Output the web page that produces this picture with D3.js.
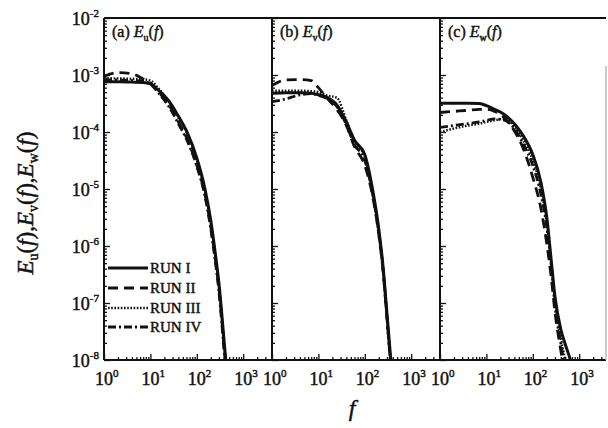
<!DOCTYPE html>
<html lang="en">
<head>
<meta charset="UTF-8">
<title>Energy spectra E(f)</title>
<script src="https://d3js.org/d3.v7.min.js"></script>
<style>
    body { margin: 0; background: #fff; }
    text { font-family: "Liberation Serif", "DejaVu Serif", serif; fill: #111; stroke: #111; stroke-width: 0.45px; }
</style>
</head>
<body>
<script>
    // frequency points shared by every curve
    const freq = [1, 2, 4, 7, 10, 15, 25, 40, 60, 100, 150, 200, 250, 300, 400, 500, 700, 1000];

    const runNames = ['RUN I', 'RUN II', 'RUN III', 'RUN IV'];

    // (a) E_u(f), one row per run
    const Eu = [
        [7.6e-4, 7.6e-4, 7.5e-4, 7.4e-4, 7.0e-4, 5.4e-4, 3.5e-4, 1.9e-4, 1.05e-4, 3.5e-5, 1.0e-5, 2.8e-6, 7.5e-7, 2.2e-7, 1.6e-8, 2e-9, 1e-10, 1e-11],
        [9.5e-4, 1.1e-3, 1.05e-3, 8.5e-4, 7.2e-4, 5.0e-4, 3.0e-4, 1.5e-4, 8e-5, 2.6e-5, 8e-6, 2.2e-6, 6e-7, 1.8e-7, 1.2e-8, 1.5e-9, 1e-10, 1e-11],
        [8.8e-4, 8.7e-4, 8.6e-4, 8.4e-4, 8.0e-4, 5.8e-4, 3.4e-4, 1.8e-4, 1.0e-4, 3.2e-5, 9e-6, 2.5e-6, 7e-7, 2e-7, 1.4e-8, 2e-9, 1e-10, 1e-11],
        [8.2e-4, 8.2e-4, 8.0e-4, 7.8e-4, 7.0e-4, 4.8e-4, 2.8e-4, 1.4e-4, 7.5e-5, 2.5e-5, 7.5e-6, 2e-6, 5.5e-7, 1.6e-7, 1.1e-8, 1.5e-9, 1e-10, 1e-11]
    ];

    // (b) E_v(f)
    const Ev = [
        [4.8e-4, 4.9e-4, 4.9e-4, 4.8e-4, 4.5e-4, 4.1e-4, 3.0e-4, 1.5e-4, 7.2e-5, 4.0e-5, 9e-6, 2e-6, 4e-7, 6.6e-8, 4e-9, 5e-10, 1e-10, 1e-11],
        [6.5e-4, 8.2e-4, 8.3e-4, 8.0e-4, 6.0e-4, 4.0e-4, 2.5e-4, 1.3e-4, 5.5e-5, 2.6e-5, 7e-6, 1.6e-6, 3.3e-7, 5.5e-8, 3e-9, 4e-10, 1e-10, 1e-11],
        [5.3e-4, 5.3e-4, 5.3e-4, 5.2e-4, 5.0e-4, 4.4e-4, 4.0e-4, 1.6e-4, 7e-5, 3.6e-5, 8e-6, 1.8e-6, 3.8e-7, 6e-8, 3.5e-9, 5e-10, 1e-10, 1e-11],
        [3.4e-4, 3.8e-4, 4.5e-4, 4.7e-4, 4.4e-4, 3.9e-4, 2.8e-4, 1.35e-4, 6e-5, 3.2e-5, 7.5e-6, 1.7e-6, 3.5e-7, 5.5e-8, 3e-9, 4e-10, 1e-10, 1e-11]
    ];

    // (c) E_w(f)
    const Ew = [
        [3.2e-4, 3.2e-4, 3.2e-4, 3.15e-4, 2.9e-4, 2.5e-4, 2.0e-4, 1.4e-4, 9e-5, 4e-5, 1.3e-5, 3.2e-6, 5.5e-7, 1.3e-7, 3.5e-8, 1.9e-8, 8e-9, 2e-9],
        [2.2e-4, 2.3e-4, 2.4e-4, 2.5e-4, 2.5e-4, 2.3e-4, 1.75e-4, 1.05e-4, 5.5e-5, 1.6e-5, 4.5e-6, 1.1e-6, 2.8e-7, 7e-8, 1.5e-8, 5e-9, 1e-9, 1e-10],
        [1.0e-4, 1.15e-4, 1.3e-4, 1.4e-4, 1.5e-4, 1.6e-4, 1.7e-4, 1.25e-4, 7.5e-5, 3.2e-5, 1.0e-5, 2.6e-6, 5e-7, 1.1e-7, 2.5e-8, 1e-8, 3e-9, 1e-10],
        [1.2e-4, 1.3e-4, 1.4e-4, 1.5e-4, 1.6e-4, 1.7e-4, 1.6e-4, 1.15e-4, 6.5e-5, 2.6e-5, 8e-6, 2.2e-6, 4.5e-7, 9e-8, 2e-8, 7e-9, 2e-9, 1e-10]
    ];

    // tick label exponents
    const xExps = [0, 1, 2, 3];
    const yExps = [-2, -3, -4, -5, -6, -7, -8];

    const width = 608, height = 428;
    const plotTop = 18, plotBottom = 360;
    const decade = 46.4;

    // line styles per run
    const dashes = [null, '10,6', '1.6,1.6', '8,3,2,3'];
    const widths = [3, 2.8, 2.4, 2.8];

    const svg = d3.select('body').append('svg')
        .attr('width', width)
        .attr('height', height);

    const y = d3.scaleLog().domain([1e-8, 1e-2]).range([plotBottom, plotTop]);

    const panels = [
        { x0: 104, x1: 272, tag: '(a) ', sub: 'u', data: Eu },
        { x0: 272, x1: 440, tag: '(b) ', sub: 'v', data: Ev },
        { x0: 440, x1: 606, tag: '(c) ', sub: 'w', data: Ew }
    ];

    panels.forEach((p, i) => {
        const x = d3.scaleLog()
            .domain([1, Math.pow(10, (p.x1 - p.x0) / decade)])
            .range([p.x0, p.x1]);

        const g = svg.append('g');

        // clip so curves stop at the frame
        g.append('clipPath').attr('id', 'clip' + i)
            .append('rect')
            .attr('x', p.x0).attr('y', plotTop)
            .attr('width', p.x1 - p.x0).attr('height', plotBottom - plotTop);

        // inward ticks: minor short, decades longer
        const xt = x.ticks();
        const yt = y.ticks();
        const isMajor = v => Math.abs(Math.log10(v) - Math.round(Math.log10(v))) < 1e-6;

        g.append('g').attr('transform', `translate(0,${plotBottom})`)
            .call(d3.axisBottom(x).tickValues(xt.filter(v => !isMajor(v))).tickSize(-3).tickFormat(''))
            .call(a => a.select('.domain').remove());
        g.append('g').attr('transform', `translate(0,${plotBottom})`)
            .call(d3.axisBottom(x).tickValues(xt.filter(isMajor)).tickSize(-6).tickFormat(''))
            .call(a => a.select('.domain').remove());
        g.append('g').attr('transform', `translate(${p.x0},0)`)
            .call(d3.axisLeft(y).tickValues(yt.filter(v => !isMajor(v))).tickSize(-3).tickFormat(''))
            .call(a => a.select('.domain').remove());
        g.append('g').attr('transform', `translate(${p.x0},0)`)
            .call(d3.axisLeft(y).tickValues(yt.filter(isMajor)).tickSize(-6).tickFormat(''))
            .call(a => a.select('.domain').remove());
        g.selectAll('.tick line').attr('stroke', '#111').attr('stroke-width', 1.3);

        // frame: left edge, bottom, top
        g.append('line')
            .attr('x1', p.x0).attr('x2', p.x0)
            .attr('y1', plotTop).attr('y2', plotBottom)
            .attr('stroke', '#111').attr('stroke-width', 2);
        g.append('line')
            .attr('x1', p.x0).attr('x2', p.x1)
            .attr('y1', plotBottom).attr('y2', plotBottom)
            .attr('stroke', '#111').attr('stroke-width', 2);
        g.append('line')
            .attr('x1', p.x0).attr('x2', p.x1)
            .attr('y1', plotTop).attr('y2', plotTop)
            .attr('stroke', '#111').attr('stroke-width', 2);

        // curves
        const line = d3.line()
            .x((d, j) => x(freq[j]))
            .y(d => y(d))
            .curve(d3.curveMonotoneX);

        const curves = g.append('g').attr('clip-path', `url(#clip${i})`);
        p.data.forEach((series, r) => {
            curves.append('path')
                .datum(series)
                .attr('d', line)
                .attr('fill', 'none')
                .attr('stroke', '#111')
                .attr('stroke-width', widths[r])
                .attr('stroke-dasharray', dashes[r]);
        });

        // x tick labels
        xExps.forEach(e => {
            const t = g.append('text')
                .attr('x', x(Math.pow(10, e)) - 9)
                .attr('y', 385)
                .attr('font-size', 18);
            t.append('tspan').text('10');
            t.append('tspan').attr('dy', -8).attr('font-size', 11).text(e);
        });

        // panel title
        const title = g.append('text')
            .attr('x', p.x0 + 8)
            .attr('y', 37)
            .attr('font-size', 16);
        title.append('tspan').text(p.tag);
        title.append('tspan').attr('font-style', 'italic').text('E');
        title.append('tspan').attr('font-size', 10).attr('dy', 4).text(p.sub);
        title.append('tspan').attr('dy', -4).text('(');
        title.append('tspan').attr('font-style', 'italic').text('f');
        title.append('tspan').text(')');
    });

    // faint right border of the last panel
    svg.append('line')
        .attr('x1', 606).attr('x2', 606)
        .attr('y1', 66).attr('y2', plotBottom)
        .attr('stroke', '#bbb').attr('stroke-width', 1.5);

    // y tick labels on the first panel only
    yExps.forEach(e => {
        const t = svg.append('text')
            .attr('x', 99)
            .attr('y', y(Math.pow(10, e)) + 7)
            .attr('text-anchor', 'end')
            .attr('font-size', 18);
        t.append('tspan').text('10');
        t.append('tspan').attr('dy', -8).attr('font-size', 11).text(e);
    });

    // legend inside panel (a)
    const legendY = [268, 288, 308, 327];
    runNames.forEach((name, r) => {
        svg.append('line')
            .attr('x1', 108).attr('x2', 148)
            .attr('y1', legendY[r]).attr('y2', legendY[r])
            .attr('stroke', '#111')
            .attr('stroke-width', widths[r])
            .attr('stroke-dasharray', dashes[r]);
        svg.append('text')
            .attr('x', 150)
            .attr('y', legendY[r] + 5)
            .attr('font-size', 15)
            .text(name);
    });

    // axis titles
    const ylab = svg.append('text')
        .attr('transform', 'translate(33,203) rotate(-90)')
        .attr('text-anchor', 'middle')
        .attr('font-size', 23);
    ['u', 'v', 'w'].forEach((s, k) => {
        ylab.append('tspan').attr('font-style', 'italic').text('E');
        ylab.append('tspan').attr('font-size', 14).attr('dy', 5).text(s);
        ylab.append('tspan').attr('dy', -5).text('(');
        ylab.append('tspan').attr('font-style', 'italic').text('f');
        ylab.append('tspan').text(k < 2 ? '),' : ')');
    });

    svg.append('text')
        .attr('x', 352)
        .attr('y', 416)
        .attr('text-anchor', 'middle')
        .attr('font-size', 24)
        .attr('font-style', 'italic')
        .text('f');
</script>
</body>
</html>
